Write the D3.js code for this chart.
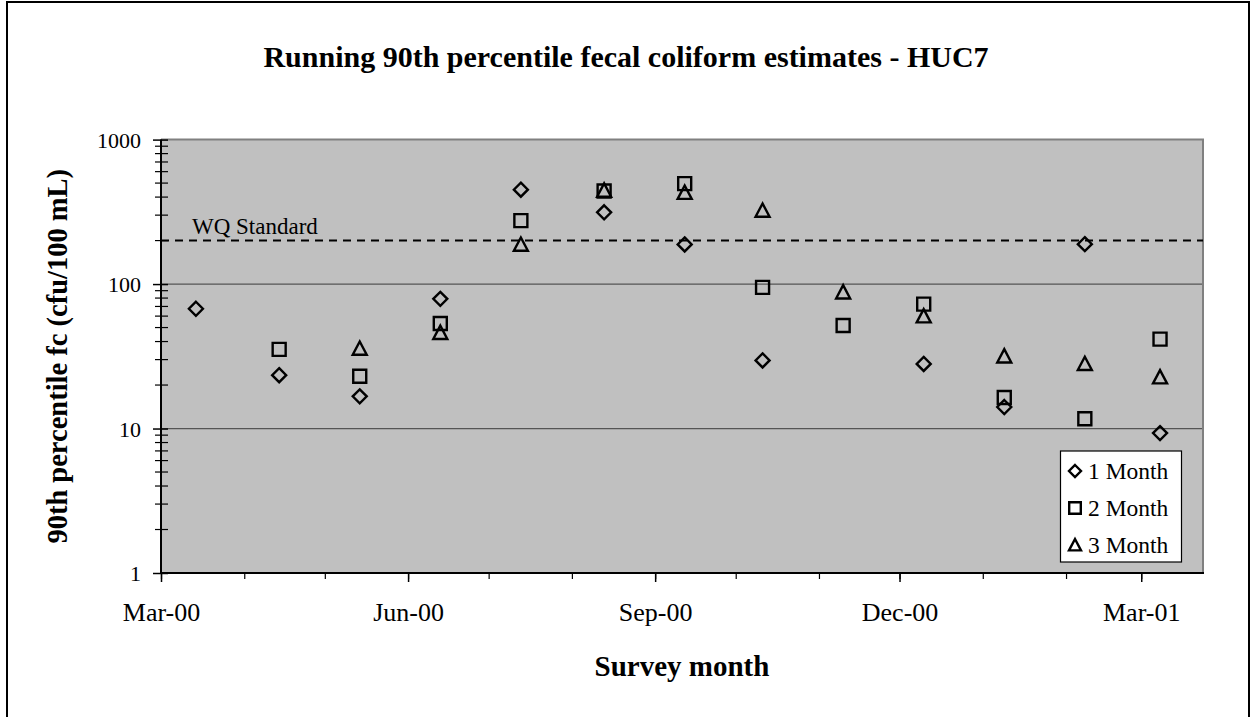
<!DOCTYPE html>
<html><head><meta charset="utf-8">
<script src="https://cdn.jsdelivr.net/npm/d3@7"></script>
<style>
html,body{margin:0;padding:0;background:#fff;}
svg{display:block;}
text{font-family:"Liberation Serif","Times New Roman",serif;fill:#000;}
</style></head>
<body>
<svg id="chart" width="1253" height="717"></svg>
<script>
const dates = ["2000-03-14","2000-04-14","2000-05-14","2000-06-13","2000-07-13","2000-08-13","2000-09-12","2000-10-11","2000-11-10","2000-12-10","2001-01-09","2001-02-08","2001-03-08"];
const oneMonth   = [67.5, 23.4, 16.7, 79, 450, 314, 188, 29.6, null, 28, 14.1, 189, 9.3];
const twoMonth   = [null, 35.3, 23, 53.4, 275, 441, 496, 94.8, 51.7, 72.6, 16.4, 11.7, 41.6];
const threeMonth = [null, null, 35.8, 46.1, 188, 445, 430, 323, 87.9, 60, 31.7, 28.1, 22.7];
const seriesNames = ["1 Month","2 Month","3 Month"];
const yTickValues = [1, 10, 100, 1000];
const xTickLabels = ["2000-03-01","2000-06-01","2000-09-01","2000-12-01","2001-03-01"];
const standardValue = 200;
const standardLabel = "WQ Standard";
const titleText = "Running 90th percentile fecal coliform estimates - HUC7";
const xTitle = "Survey month";
const yTitle = "90th percentile fc (cfu/100 mL)";
const xDomain = ["2000-03-01","2001-03-24"];

const FONT = '"Liberation Serif","Times New Roman",serif';
const svg = d3.select("#chart");
const L = 161, R = 1203, T = 139.6, B = 573;
const parse = d3.utcParse("%Y-%m-%d");

// outer frame
svg.append("rect").attr("x",7).attr("y",2).attr("width",1242).attr("height",740)
  .attr("fill","#fff").attr("stroke","#000").attr("stroke-width",2);

const x = d3.scaleUtc().domain(xDomain.map(parse)).range([L, R]);
const y = d3.scaleLog().domain([1, 1000]).range([B, T]);

// plot area
svg.append("rect").attr("x",L).attr("y",T).attr("width",R-L).attr("height",B-T)
  .attr("fill","#c0c0c0");

// gridlines
svg.append("g").selectAll("line").data([10,100]).join("line")
  .attr("x1",L).attr("x2",R).attr("y1",d=>y(d)).attr("y2",d=>y(d))
  .attr("stroke","#555").attr("stroke-width",1.2);

// top/right border
svg.append("path").attr("d",`M${L},${T}H${R}V${B}`).attr("fill","none")
  .attr("stroke","#808080").attr("stroke-width",2);

// WQ standard
svg.append("line").attr("x1",L).attr("x2",R).attr("y1",y(standardValue)).attr("y2",y(standardValue))
  .attr("stroke","#000").attr("stroke-width",2).attr("stroke-dasharray","8,6");
svg.append("text").attr("x",192).attr("y",y(standardValue)-7).attr("font-size",23).text(standardLabel);

// Y axis
const minor = [];
[1,10,100].forEach(d=>{for(let k=2;k<=9;k++) minor.push(d*k);});
svg.append("g").selectAll("line").data(minor).join("line")
  .attr("x1",L-6).attr("x2",L+7).attr("y1",d=>y(d)).attr("y2",d=>y(d))
  .attr("stroke","#000").attr("stroke-width",1.2);
const yAxis = d3.axisLeft(y).tickValues(yTickValues).tickFormat(d3.format("d")).tickSize(8).tickPadding(13);
const gy = svg.append("g").attr("transform",`translate(${L},0)`).call(yAxis);
gy.attr("font-family",FONT);
gy.select(".domain").remove();
gy.selectAll(".tick line").attr("x2",-8).attr("x1",7).attr("stroke","#000").attr("stroke-width",1.5);
gy.selectAll(".tick text").attr("font-size",22).attr("x",-20).attr("dy","0.35em");
svg.append("line").attr("x1",L).attr("x2",L).attr("y1",T).attr("y2",B+1).attr("stroke","#000").attr("stroke-width",2);

// X axis
const xAxisMinor = d3.axisBottom(x).ticks(d3.utcMonth.every(1)).tickFormat("").tickSize(6);
const gxm = svg.append("g").attr("transform",`translate(0,${B})`).call(xAxisMinor);
gxm.select(".domain").remove();
gxm.selectAll(".tick line").attr("stroke","#000").attr("stroke-width",1.2);
const fmt = d3.utcFormat("%b-%y");
const xAxis = d3.axisBottom(x).tickValues(xTickLabels.map(parse)).tickFormat(fmt).tickSize(9).tickPadding(21);
const gx = svg.append("g").attr("transform",`translate(0,${B})`).call(xAxis);
gx.attr("font-family",FONT);
gx.select(".domain").remove();
gx.selectAll(".tick line").attr("stroke","#000").attr("stroke-width",1.5);
gx.selectAll(".tick text").attr("font-size",26);
svg.append("line").attr("x1",L-1).attr("x2",R+1).attr("y1",B).attr("y2",B).attr("stroke","#000").attr("stroke-width",2);

// markers
const shapes = {
  diamond: s => `M0,${-s}L${s},0L0,${s}L${-s},0Z`,
  square: s => `M${-s},${-s}H${s}V${s}H${-s}Z`,
  triangle: s => `M0,${-s}L${s},${s*0.9}H${-s}Z`
};
const series = [
  {name:seriesNames[0], vals:oneMonth, shape:shapes.diamond(7)},
  {name:seriesNames[1], vals:twoMonth, shape:shapes.square(6.5)},
  {name:seriesNames[2], vals:threeMonth, shape:shapes.triangle(7)}
];
series.forEach(s=>{
  const pts = dates.map((d,i)=>({d:parse(d), v:s.vals[i]})).filter(p=>p.v!=null);
  svg.append("g").selectAll("path").data(pts).join("path")
    .attr("d",s.shape).attr("transform",p=>`translate(${x(p.d)},${y(p.v)})`)
    .attr("fill","none").attr("stroke","#000").attr("stroke-width",2.4);
});

// legend
const lg = svg.append("g");
lg.append("rect").attr("x",1060.5).attr("y",451).attr("width",121).attr("height",111)
  .attr("fill","#fff").attr("stroke","#000").attr("stroke-width",1.2);
const lgShapes = [shapes.diamond(6), shapes.square(5.8), shapes.triangle(6)];
series.forEach((s,i)=>{
  const yy = 471 + i*37;
  lg.append("path").attr("d",lgShapes[i]).attr("transform",`translate(1075,${yy})`)
    .attr("fill","none").attr("stroke","#000").attr("stroke-width",2.4);
  lg.append("text").attr("x",1088).attr("y",yy).attr("dy","0.35em").attr("font-size",23.5).text(s.name);
});

// titles
svg.append("text").attr("x",626).attr("y",67).attr("text-anchor","middle")
  .attr("font-size",30).attr("font-weight","bold").text(titleText);
svg.append("text").attr("x",(L+R)/2).attr("y",676).attr("text-anchor","middle")
  .attr("font-size",29).attr("font-weight","bold").text(xTitle);
svg.append("text").attr("transform",`translate(67,${(T+B)/2}) rotate(-90)`).attr("text-anchor","middle")
  .attr("font-size",28.5).attr("font-weight","bold").text(yTitle);
</script>
</body></html>
